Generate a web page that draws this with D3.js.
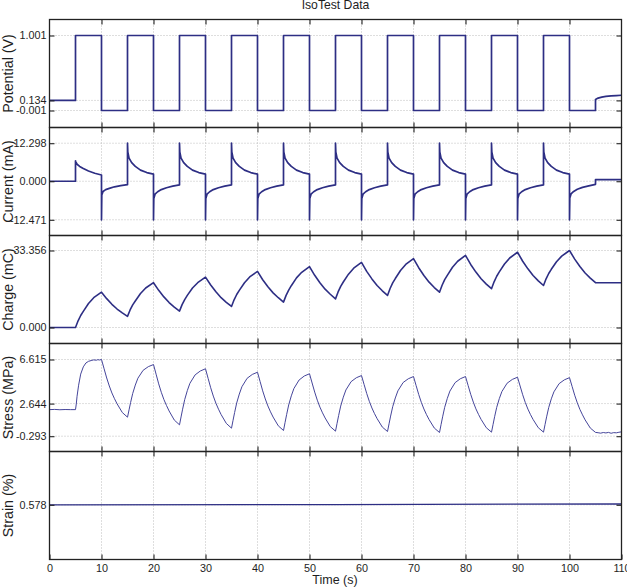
<!DOCTYPE html>
<html><head><meta charset="utf-8">
<script src="https://cdn.jsdelivr.net/npm/d3@7"></script>
<style>
body{margin:0;background:#fff}
svg{display:block;font-family:"Liberation Sans",Arial,Helvetica,sans-serif}
</style>
</head><body>
<svg id="chart" width="627" height="588"></svg>
<script>
// ---------------- DATA ----------------
const timeTicks = [0,10,20,30,40,50,60,70,80,90,100,110];
const gridTimes = [10,20,30,40,50,60,70,80,90,100];

// Potential (V): step levels
const potentialStepTimes = [0,5,10,15,20,25,30,35,40,45,50,55,60,65,70,75,80,85,90,95,100,105];
const potentialStepLevels = [0.134,1.001,-0.001,1.001,-0.001,1.001,-0.001,1.001,-0.001,1.001,-0.001,1.001,-0.001,1.001,-0.001,1.001,-0.001,1.001,-0.001,1.001,-0.001];
const potentialTail = [[105,0.147],[105.5,0.165],[106.2,0.178],[107,0.187],[108,0.194],[109,0.199],[110,0.203]];
const potentialTicks = [-0.001,0.134,1.001];

// Current (mA)
const currentBaseline = [[0,0],[5,0]];
const currentOffsets = [0,0.06,0.3,0.8,1.5,2.5,3.7,5.0];
const currentPosStarts = [5,15,25,35,45,55,65,75,85,95];
const currentPosValues = [
  [6.6,6.3,5.5,4.8,4.1,3.3,2.6,2.0],
  [12.298,9.5,7.5,6.0,4.8,3.6,2.8,2.3],
  [12.298,9.5,7.5,6.0,4.8,3.6,2.8,2.3],
  [12.298,9.5,7.5,6.0,4.8,3.6,2.8,2.3],
  [12.298,9.5,7.5,6.0,4.8,3.6,2.8,2.3],
  [12.298,9.5,7.5,6.0,4.8,3.6,2.8,2.3],
  [12.298,9.5,7.5,6.0,4.8,3.6,2.8,2.3],
  [12.298,9.5,7.5,6.0,4.8,3.6,2.8,2.3],
  [12.298,9.5,7.5,6.0,4.8,3.6,2.8,2.3],
  [12.298,9.5,7.5,6.0,4.8,3.6,2.8,2.3]
];
const currentNegStarts = [10,20,30,40,50,60,70,80,90,100];
const currentNegValues = [
  [-12.471,-4.4,-3.3,-2.7,-2.3,-1.8,-1.4,-1.1],
  [-12.471,-5.6,-4.2,-3.4,-2.7,-2.1,-1.6,-1.2],
  [-12.471,-5.6,-4.2,-3.4,-2.7,-2.1,-1.6,-1.2],
  [-12.471,-5.6,-4.2,-3.4,-2.7,-2.1,-1.6,-1.2],
  [-12.471,-5.6,-4.2,-3.4,-2.7,-2.1,-1.6,-1.2],
  [-12.471,-5.6,-4.2,-3.4,-2.7,-2.1,-1.6,-1.2],
  [-12.471,-5.6,-4.2,-3.4,-2.7,-2.1,-1.6,-1.2],
  [-12.471,-5.6,-4.2,-3.4,-2.7,-2.1,-1.6,-1.2],
  [-12.471,-5.6,-4.2,-3.4,-2.7,-2.1,-1.6,-1.2],
  [-12.471,-5.4,-4.1,-3.3,-2.6,-2.0,-1.5,-1.0]
];
const currentTail = [[105,0.5],[110,0.5]];
const currentTicks = [-12.471,0.000,12.298];

// Charge (mC)
const chargeBaseline = [[0,0],[5,0]];
const chargeRiseOffsets = [0,0.5,1,1.5,2.5,3.5,5];
const chargeRiseStarts = [5,15,25,35,45,55,65,75,85,95];
const chargeRiseValues = [
  [0,2.9,5.2,7.0,10.4,12.9,15.3],
  [4.8,7.6,9.8,11.5,14.7,17.1,19.4],
  [7.1,9.9,12.1,13.9,17.1,19.4,21.8],
  [9.1,12.0,14.3,16.1,19.4,21.9,24.3],
  [11.0,13.9,16.2,18.1,21.5,23.9,26.4],
  [12.4,15.4,17.8,19.7,23.1,25.7,28.2],
  [13.9,16.9,19.3,21.2,24.7,27.3,29.8],
  [15.3,18.3,20.7,22.6,26.1,28.7,31.2],
  [16.8,19.8,22.2,24.1,27.5,30.1,32.6],
  [18.2,21.1,23.4,25.2,28.5,30.9,33.356]
];
const chargeFallOffsets = [0,1,2,3,4,5];
const chargeFallStarts = [10,20,30,40,50,60,70,80,90,100];
const chargeFallValues = [
  [15.3,12.5,10.05,8.0,6.3,4.8],
  [19.4,16.1,13.25,10.8,8.8,7.1],
  [21.8,18.4,15.45,12.9,10.9,9.1],
  [24.3,20.7,17.65,15.0,12.9,11.0],
  [26.4,22.6,19.4,16.6,14.4,12.4],
  [28.2,24.3,21.05,18.2,15.9,13.9],
  [29.8,25.9,22.55,19.65,17.3,15.3],
  [31.2,27.3,24.0,21.1,18.8,16.8],
  [32.6,28.7,25.4,22.5,20.2,18.2],
  [33.356,29.6,26.4,23.6,21.4,19.4]
];
const chargeTail = [[110,19.4]];
const chargeTicks = [0.000,33.356];

// Stress (MPa)
const stressStart = [[0,2.1],[1,2.12],[2,2.09],[3,2.11],[4,2.1],[5,2.1],[5.15,2.6],[5.3,3.3],[5.6,4.3],[6,5.3],[6.5,5.95],[7,6.3],[7.5,6.45],[8,6.52],[8.5,6.58],[9,6.55],[9.3,6.6],[9.6,6.57]];
const stressFallOffsets = [0,0.5,1,1.5,2,2.5,3,4,5];
const stressFallStarts = [10,20,30,40,50,60,70,80,90,100];
const stressFallValues = [
  [6.615,5.78,4.95,4.23,3.60,3.08,2.62,1.84,1.42],
  [6.16,5.29,4.42,3.66,3.01,2.47,1.98,1.16,0.73],
  [5.78,4.92,4.07,3.32,2.68,2.14,1.66,0.86,0.43],
  [5.47,4.63,3.79,3.06,2.43,1.90,1.43,0.64,0.22],
  [5.33,4.50,3.68,2.95,2.33,1.81,1.35,0.57,0.16],
  [5.17,4.36,3.56,2.85,2.25,1.74,1.29,0.53,0.13],
  [5.08,4.27,3.47,2.76,2.16,1.65,1.20,0.44,0.04],
  [5.08,4.28,3.48,2.78,2.17,1.67,1.22,0.47,0.07],
  [5.02,4.23,3.44,2.74,2.15,1.65,1.21,0.47,0.07],
  [4.98,4.19,3.40,2.71,2.12,1.63,1.18,0.44,0.05]
];
const stressRiseOffsets = [0,0.3,0.6,1,1.5,2,3,4,5];
const stressRiseStarts = [15,25,35,45,55,65,75,85,95];
const stressRiseValues = [
  [1.42,2.08,2.75,3.55,4.31,4.93,5.64,5.97,6.16],
  [0.73,1.44,2.14,3.00,3.81,4.47,5.23,5.58,5.78],
  [0.43,1.14,1.84,2.70,3.50,4.16,4.92,5.27,5.47],
  [0.22,0.94,1.65,2.52,3.34,4.00,4.77,5.13,5.33],
  [0.16,0.86,1.56,2.42,3.22,3.87,4.62,4.97,5.17],
  [0.13,0.82,1.52,2.36,3.15,3.79,4.54,4.88,5.08],
  [0.04,0.75,1.45,2.31,3.11,3.77,4.53,4.88,5.08],
  [0.07,0.76,1.46,2.30,3.09,3.73,4.48,4.82,5.02],
  [0.07,0.76,1.45,2.28,3.07,3.70,4.44,4.78,4.98]
];
const stressTail = [[105.5,0.02],[106,-0.02],[106.5,0.04],[107,0.0],[107.5,0.05],[108,-0.03],[108.5,0.03],[109,0.01],[109.5,0.06],[110,0.1]];
const stressTicks = [-0.293,2.644,6.615];

// Strain (%)
const strainPoints = [[0,0.578],[55,0.5785],[110,0.5795]];
const strainTicks = [0.578];

// ---------------- BUILD SERIES ----------------
function segment(t0, offsets, values){ return values.map((v,j)=>[t0+offsets[j], v]); }

const potentialSeries = [];
potentialStepLevels.forEach((v,i)=>{
  potentialSeries.push([potentialStepTimes[i], v],[potentialStepTimes[i+1], v]);
});
potentialSeries.push(...potentialTail);

const currentSeries = [...currentBaseline];
currentPosStarts.forEach((t,i)=>{
  currentSeries.push(...segment(t,currentOffsets,currentPosValues[i]));
  currentSeries.push(...segment(currentNegStarts[i],currentOffsets,currentNegValues[i]));
});
currentSeries.push(...currentTail);

const chargeSeries = [...chargeBaseline];
chargeRiseStarts.forEach((t,i)=>{
  chargeSeries.push(...segment(t,chargeRiseOffsets,chargeRiseValues[i]));
  chargeSeries.push(...segment(chargeFallStarts[i],chargeFallOffsets,chargeFallValues[i]));
});
chargeSeries.push(...chargeTail);

const stressSeries = [...stressStart];
stressFallStarts.forEach((t,i)=>{
  stressSeries.push(...segment(t,stressFallOffsets,stressFallValues[i]));
  if(i < stressRiseStarts.length) stressSeries.push(...segment(stressRiseStarts[i],stressRiseOffsets,stressRiseValues[i]));
});
stressSeries.push(...stressTail);

// ---------------- DRAW ----------------
const svg = d3.select("#chart");
const left = 49.5, right = 621.5;
const panelTops = [19.5,127.5,235.5,343.5,451.5];
const panelH = 108;
const x = d3.scaleLinear().domain([0,110]).range([left,right]);
const lineColor = "#2d2e84";
const textColor = "#1e1e1e";

const panels = [
  {label:"Potential (V)", data:potentialSeries, domain:[-0.2281,1.2148], ticks:potentialTicks, width:1.7, color:lineColor},
  {label:"Current (mA)", data:currentSeries, domain:[-17.55,17.38], ticks:currentTicks, width:1.7, color:lineColor},
  {label:"Charge (mC)", data:chargeSeries, domain:[-6.93,39.85], ticks:chargeTicks, width:1.6, color:lineColor},
  {label:"Stress (MPa)", data:stressSeries, domain:[-1.671,8.056], ticks:stressTicks, width:1.0, color:"#45459a"},
  {label:"Strain (%)", data:strainPoints, domain:[0.4767,0.6767], ticks:strainTicks, width:1.3, color:lineColor}
];

const defs = svg.append("defs");

panels.forEach((p,i)=>{
  const top = panelTops[i], bottom = top+panelH;
  const y = d3.scaleLinear().domain(p.domain).range([bottom, top]);
  const g = svg.append("g");

  // grid
  g.selectAll("line.vg").data(gridTimes).join("line")
    .attr("x1",d=>x(d)).attr("x2",d=>x(d)).attr("y1",top).attr("y2",bottom)
    .attr("stroke","#bdbdbd").attr("stroke-width",1).attr("stroke-dasharray","1,2");
  g.selectAll("line.hg").data(p.ticks).join("line")
    .attr("x1",left).attr("x2",right).attr("y1",d=>y(d)).attr("y2",d=>y(d))
    .attr("stroke","#bdbdbd").attr("stroke-width",1).attr("stroke-dasharray","1,2");

  // clip
  defs.append("clipPath").attr("id","clip"+i).append("rect")
    .attr("x",left).attr("y",top).attr("width",right-left).attr("height",panelH);

  // data line
  g.append("path").datum(p.data)
    .attr("clip-path","url(#clip"+i+")")
    .attr("fill","none").attr("stroke",p.color).attr("stroke-width",p.width)
    .attr("stroke-linejoin","round")
    .attr("d", d3.line().x(d=>x(d[0])).y(d=>y(d[1])));

  // axes
  const fmt = d=>d.toFixed(3);
  const yl = g.append("g").attr("transform",`translate(${left},0)`)
    .call(d3.axisLeft(y).tickValues(p.ticks).tickSizeInner(-5).tickSizeOuter(0).tickPadding(3).tickFormat(fmt));
  const yr = g.append("g").attr("transform",`translate(${right},0)`)
    .call(d3.axisRight(y).tickValues(p.ticks).tickSizeInner(-5).tickSizeOuter(0).tickFormat(""));
  const xt = g.append("g").attr("transform",`translate(0,${top})`)
    .call(d3.axisTop(x).tickValues(gridTimes).tickSizeInner(-5).tickSizeOuter(0).tickFormat(""));
  const xb = g.append("g").attr("transform",`translate(0,${bottom})`)
    .call(d3.axisBottom(x).tickValues(i===4?timeTicks:gridTimes).tickSizeInner(-5).tickSizeOuter(0).tickPadding(5)
      .tickFormat(i===4? d=>String(d) : ""));
  [yl,yr,xt,xb].forEach(a=>{
    a.select(".domain").remove();
    a.selectAll(".tick line").attr("stroke","#222").attr("stroke-width",1.1);
    a.selectAll(".tick text").attr("fill",textColor).style("font-size","10.8px")
      .style("font-family","'Liberation Sans',Arial,sans-serif");
  });

  // border
  g.append("rect").attr("x",left).attr("y",top).attr("width",right-left).attr("height",panelH)
    .attr("fill","none").attr("stroke","#222").attr("stroke-width",1.3);

  // y label
  svg.append("text")
    .attr("transform",`translate(13,${top+panelH/2}) rotate(-90)`)
    .attr("text-anchor","middle").attr("fill",textColor)
    .style("font-size","14.3px").text(p.label);
});

// title & x label
svg.append("text").attr("x",335.5).attr("y",8.5).attr("text-anchor","middle")
  .attr("fill",textColor).style("font-size","12.2px").text("IsoTest Data");
svg.append("text").attr("x",335).attr("y",584).attr("text-anchor","middle")
  .attr("fill",textColor).style("font-size","12.5px").text("Time (s)");
</script>
</body></html>
